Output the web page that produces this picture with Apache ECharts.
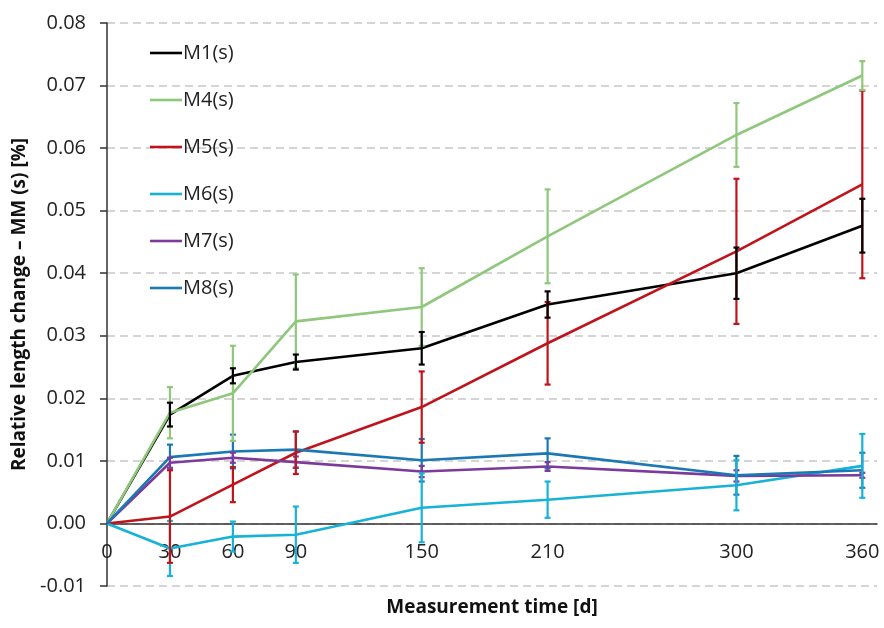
<!DOCTYPE html>
<html>
<head>
<meta charset="utf-8">
<script src="https://cdn.jsdelivr.net/npm/echarts@6/dist/echarts.min.js"></script>
<style>
  html, body { margin: 0; padding: 0; background: #fff; }
  #chart { width: 884px; height: 628px; }
</style>
</head>
<body>
<div id="chart"></div>
<script>
// measurement days
var days = [0, 30, 60, 90, 150, 210, 300, 360];
var dayLabels = [0, 30, 60, 90, 150, 210, 300, 360];

// mean values [%]
var m1 = [0, 0.0174, 0.0236, 0.0258, 0.0280, 0.0350, 0.0400, 0.0476];
var m4 = [0, 0.0177, 0.0208, 0.0323, 0.0346, 0.0459, 0.0621, 0.0716];
var m5 = [0, 0.0011, 0.0062, 0.0113, 0.0186, 0.0288, 0.0435, 0.0542];
var m6 = [0, -0.0040, -0.0021, -0.0018, 0.0025, 0.0038, 0.0061, 0.0092];
var m7 = [0, 0.0097, 0.0105, 0.0098, 0.0083, 0.0091, 0.0076, 0.0077];
var m8 = [0, 0.0106, 0.0115, 0.0118, 0.0101, 0.0112, 0.0077, 0.0085];

// error (+/-) values
var e1 = [0, 0.0019, 0.0012, 0.0012, 0.0026, 0.0021, 0.0041, 0.0043];
var e4 = [0, 0.0041, 0.0076, 0.0075, 0.0062, 0.0075, 0.0051, 0.0023];
var e5 = [0, 0.0074, 0.0028, 0.0034, 0.0057, 0.0066, 0.0116, 0.0150];
var e6 = [0, 0.0044, 0.0024, 0.0045, 0.0055, 0.0029, 0.0040, 0.0051];
var e7 = [0, 0.0008, 0.0008, 0.0009, 0.0009, 0.0007, 0.0009, 0.0004];
var e8 = [0, 0.0020, 0.0027, 0.0029, 0.0034, 0.0024, 0.0031, 0.0028];

var names = ['M1(s)', 'M4(s)', 'M5(s)', 'M6(s)', 'M7(s)', 'M8(s)'];
var colors = ['#000000', '#8fc77c', '#c0141c', '#17b2d8', '#7b3a9c', '#1a78b4'];
var means = [m1, m4, m5, m6, m7, m8];
var errs = [e1, e4, e5, e6, e7, e8];

var font = '"Open Sans", "DejaVu Sans", sans-serif';

function errorSeries(idx) {
  var rows = days.map(function (d, i) {
    return [d, means[idx][i] - errs[idx][i], means[idx][i] + errs[idx][i]];
  }).filter(function (r, i) { return i > 0; });
  return {
    type: 'custom',
    name: names[idx] + ' err',
    data: rows,
    z: 10 - idx,
    renderItem: function (params, api) {
      var lo = api.coord([api.value(0), api.value(1)]);
      var hi = api.coord([api.value(0), api.value(2)]);
      var w = 3;
      var st = { stroke: colors[idx], lineWidth: 2.2 };
      return {
        type: 'group',
        children: [
          { type: 'line', shape: { x1: lo[0], y1: lo[1], x2: hi[0], y2: hi[1] }, style: st },
          { type: 'line', shape: { x1: lo[0] - w, y1: lo[1], x2: lo[0] + w, y2: lo[1] }, style: st },
          { type: 'line', shape: { x1: hi[0] - w, y1: hi[1], x2: hi[0] + w, y2: hi[1] }, style: st }
        ]
      };
    },
    tooltip: { show: false },
    silent: true
  };
}

var series = [];
names.forEach(function (n, idx) {
  series.push({
    type: 'line',
    name: n,
    data: days.map(function (d, i) { return [d, means[idx][i]]; }),
    symbol: 'none',
    lineStyle: { color: colors[idx], width: 2.6 },
    itemStyle: { color: colors[idx] },
    z: 3
  });
});
names.forEach(function (n, idx) { series.push(errorSeries(idx)); });

var chart = echarts.init(document.getElementById('chart'));
chart.setOption({
  animation: false,
  backgroundColor: '#fff',
  grid: { left: 107, right: 7, top: 23, bottom: 42, containLabel: false, outerBoundsMode: 'none' },
  legend: {
    data: names,
    orient: 'vertical',
    left: 145,
    top: 38,
    itemGap: 27,
    itemWidth: 32,
    itemHeight: 14,
    icon: 'path://M0,6 L32,6 L32,8.6 L0,8.6 Z',
    textStyle: { fontFamily: font, fontSize: 20, color: '#222', padding: [0, 0, 0, -4] }
  },
  xAxis: {
    type: 'value',
    min: 0,
    max: 367,
    position: 'bottom',
    offset: -62.56,
    name: 'Measurement time [d]',
    nameLocation: 'middle',
    nameGap: 75,
    nameTextStyle: { fontFamily: font, fontSize: 19, fontWeight: 'bold', color: '#111' },
    axisLine: { onZero: false, lineStyle: { color: '#333', width: 1.5 } },
    axisTick: { show: false },
    splitLine: { show: false },
    axisLabel: {
      customValues: dayLabels,
      fontFamily: font,
      fontSize: 20,
      color: '#222',
      margin: 19
    }
  },
  yAxis: {
    type: 'value',
    min: -0.01,
    max: 0.08,
    interval: 0.01,
    name: 'Relative length change – MM (s) [%]',
    nameLocation: 'middle',
    nameGap: 72,
    nameTextStyle: { fontFamily: font, fontSize: 19, fontWeight: 'bold', color: '#111' },
    axisLine: { show: true, lineStyle: { color: '#333', width: 1.5 } },
    axisTick: { show: true, length: 7, lineStyle: { color: '#333', width: 1.5 } },
    axisLabel: {
      fontFamily: font,
      fontSize: 20,
      color: '#222',
      margin: 21,
      formatter: function (v) { return v.toFixed(2); }
    },
    splitLine: { show: true, lineStyle: { color: '#c8c8c8', type: [8, 5], width: 1.5 } }
  },
  series: series
});
</script>
</body>
</html>
